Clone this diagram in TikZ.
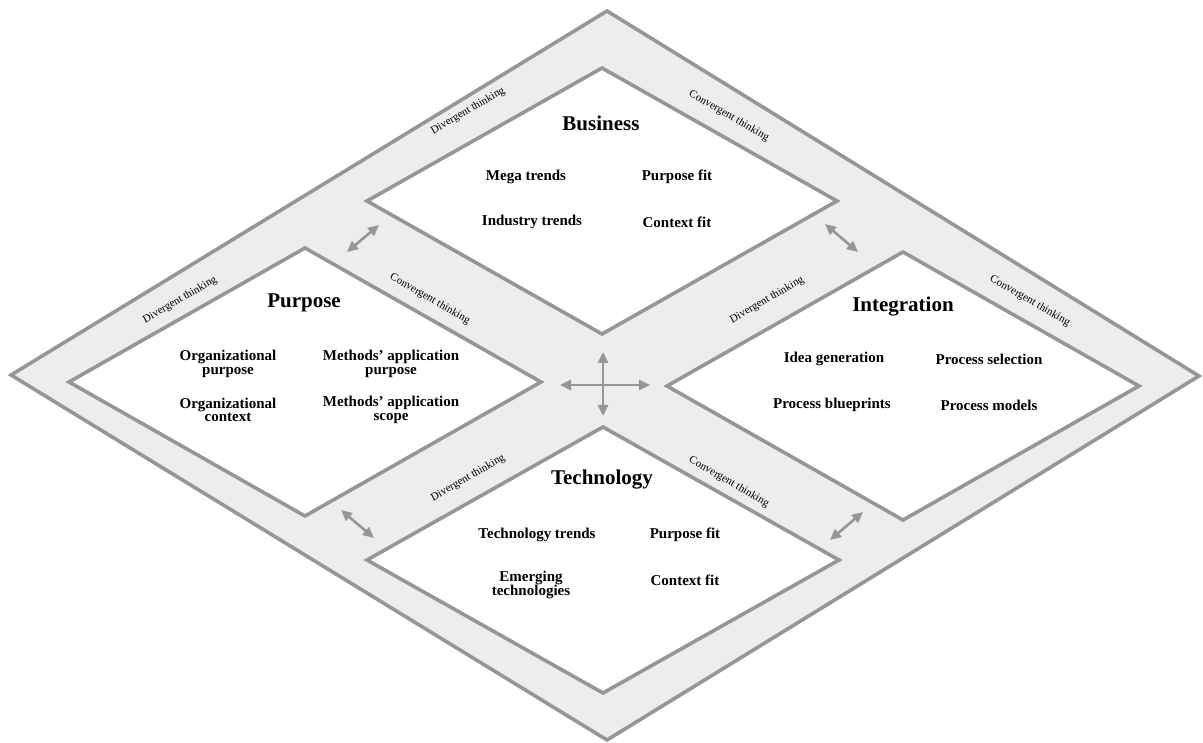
\documentclass[tikz,border=0pt]{standalone}
\usepackage{fontspec}
\setmainfont{Liberation Serif}
\usetikzlibrary{arrows.meta}
\definecolor{edgegray}{RGB}{150,150,150}
\definecolor{bandgray}{RGB}{237,237,237}
\begin{document}
\begin{tikzpicture}[x=1pt,y=-1pt,
  frame/.style={draw=edgegray, line width=3.6pt},
  title/.style={font=\bfseries\fontsize{21}{24}\selectfont, inner sep=0pt},
  item/.style={font=\bfseries\fontsize{15}{13.5}\selectfont, align=center, inner sep=0pt},
  think/.style={font=\fontsize{11}{13}\selectfont, inner sep=0pt},
  link/.style={draw=edgegray, line width=2.6pt,
    {Triangle[length=11pt,width=10pt]}-{Triangle[length=11pt,width=10pt]}}]
\useasboundingbox (0,0) rectangle (1203,743);

% outer band
\path[frame, fill=bandgray] (11,375) -- (607,11) -- (1199,376) -- (607,740) -- cycle;

% the four inner fields
\path[frame, fill=white] (367,201) -- (602,68) -- (837,201) -- (602,334) -- cycle;
\path[frame, fill=white] (69,382) -- (305,248) -- (541,382) -- (305,516) -- cycle;
\path[frame, fill=white] (667,386) -- (903,252) -- (1139,386) -- (903,520) -- cycle;
\path[frame, fill=white] (367,560) -- (603,427) -- (839,560) -- (603,693) -- cycle;

% Business
\node[title] (bus) at (601,123) {Business};
\node[item] (bus1) at (526,177) {Mega trends};
\node[item] (bus2) at (677,177) {Purpose fit};
\node[item] (bus3) at (532,222) {Industry trends};
\node[item] (bus4) at (677,222) {Context fit};

% Purpose
\node[title] (pur) at (304,303) {Purpose};
\node[item] (pur1) at (228,364) {Organizational\\purpose};
\node[item] (pur2) at (391,364) {Methods’ application\\purpose};
\node[item] (pur3) at (228,410) {Organizational\\context};
\node[item] (pur4) at (391,410) {Methods’ application\\scope};

% Integration
\node[title] (int) at (903,307) {Integration};
\node[item] (int1) at (834,359) {Idea generation};
\node[item] (int2) at (989,359) {Process selection};
\node[item] (int3) at (832,405) {Process blueprints};
\node[item] (int4) at (989,405) {Process models};

% Technology
\node[title] (tec) at (602,480) {Technology};
\node[item] (tec1) at (537,535) {Technology trends};
\node[item] (tec2) at (685,535) {Purpose fit};
\node[item] (tec3) at (531,585) {Emerging\\technologies};
\node[item] (tec4) at (685,580) {Context fit};

% thinking modes along the band
\node[think, rotate=30]  (d1) at (468,111) {Divergent thinking};
\node[think, rotate=-30] (c1) at (729,116) {Convergent thinking};
\node[think, rotate=30]  (d2) at (180,300) {Divergent thinking};
\node[think, rotate=-30] (c2) at (430,299) {Convergent thinking};
\node[think, rotate=30]  (d3) at (767,300) {Divergent thinking};
\node[think, rotate=-30] (c3) at (1030,301) {Convergent thinking};
\node[think, rotate=30]  (d4) at (468,478) {Divergent thinking};
\node[think, rotate=-30] (c4) at (729,482) {Convergent thinking};

% exchange arrows between fields
\coordinate (bp1) at (347,252);  \coordinate (bp2) at (379,225);
\coordinate (bi1) at (825,224);  \coordinate (bi2) at (858,252);
\coordinate (pt1) at (341,510);  \coordinate (pt2) at (374,538);
\coordinate (ti1) at (830,540);  \coordinate (ti2) at (863,512);
\coordinate (cl) at (560,385);   \coordinate (cr) at (650,385);
\coordinate (ct) at (603,352);   \coordinate (cb) at (603,416);
\draw[link] (bp1) -- (bp2);
\draw[link] (bi1) -- (bi2);
\draw[link] (pt1) -- (pt2);
\draw[link] (ti1) -- (ti2);
\draw[link] (cl) -- (cr);
\draw[link] (ct) -- (cb);
\end{tikzpicture}
\end{document}
